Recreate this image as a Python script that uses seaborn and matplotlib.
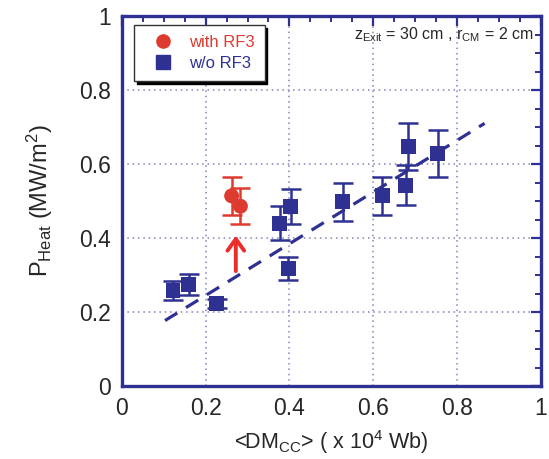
import numpy as np
import pandas as pd
import matplotlib
matplotlib.use("Agg")
import matplotlib.pyplot as plt
import seaborn as sns
from matplotlib.lines import Line2D

# values
wo_x = [0.122, 0.160, 0.226, 0.377, 0.403, 0.397, 0.527, 0.622, 0.678, 0.684, 0.754]
wo_y = [0.259, 0.275, 0.223, 0.440, 0.485, 0.318, 0.498, 0.514, 0.543, 0.647, 0.629]
wo_err = [0.026, 0.028, 0.012, 0.046, 0.048, 0.031, 0.052, 0.052, 0.055, 0.064, 0.064]

rf_x = [0.262, 0.283]
rf_y = [0.514, 0.486]
rf_err = [0.052, 0.048]

fit_x = [0.103, 0.866]
fit_y = [0.177, 0.710]

arrow_x = 0.272
arrow_y = [0.303, 0.414]

BLUE = "#2E3192"
RED = "#DD3A30"
ARROW_RED = "#EE2B2B"
GRID = "#8080C4"
TXT = "#262626"

sns.set_theme(style="white")
plt.rcParams["font.family"] = ["Liberation Sans", "DejaVu Sans"]
plt.rcParams["mathtext.fontset"] = "custom"
plt.rcParams["mathtext.rm"] = "Liberation Sans"
plt.rcParams["mathtext.it"] = "Liberation Sans:italic"

df = pd.DataFrame({
    "x": wo_x + rf_x,
    "y": wo_y + rf_y,
    "grp": ["w/o RF3"] * len(wo_x) + ["with RF3"] * len(rf_x),
})

fig = plt.figure(figsize=(5.49, 4.59), dpi=100)
ax = fig.add_axes([0.222, 0.159, 0.763, 0.806])

# fit line
sns.lineplot(x=fit_x, y=fit_y, ax=ax, color=BLUE, lw=2.3, zorder=2)
ax.lines[-1].set_dashes([4.5, 3.2])

# error bars
ax.errorbar(wo_x, wo_y, yerr=wo_err, fmt="none", ecolor=BLUE,
            elinewidth=1.8, capsize=7.5, capthick=1.8, zorder=3)
ax.errorbar(rf_x, rf_y, yerr=rf_err, fmt="none", ecolor=RED,
            elinewidth=1.8, capsize=7.5, capthick=1.8, zorder=3)

sns.scatterplot(data=df, x="x", y="y", hue="grp", style="grp",
                hue_order=["with RF3", "w/o RF3"],
                palette={"with RF3": RED, "w/o RF3": BLUE},
                markers={"with RF3": "o", "w/o RF3": "s"},
                s=115, linewidth=0, ax=ax, zorder=4, legend=False)

# arrow
ax.annotate("", xy=(arrow_x, arrow_y[1]), xytext=(arrow_x, arrow_y[0]),
            arrowprops=dict(arrowstyle="->,head_width=0.5,head_length=0.7",
                            color=ARROW_RED, lw=2.8), zorder=5)

ticks = [0, 0.2, 0.4, 0.6, 0.8, 1]
tick_labels = ["0", "0.2", "0.4", "0.6", "0.8", "1"]
ax.set_xlim(0, 1)
ax.set_ylim(0, 1)
ax.set_xticks(ticks)
ax.set_xticklabels(tick_labels)
ax.set_yticks(ticks)
ax.set_yticklabels(tick_labels)
ax.set_xticks(np.arange(0, 1.001, 0.05), minor=True)
ax.set_yticks(np.arange(0, 1.001, 0.05), minor=True)
ax.tick_params(which="both", direction="in", top=True, right=True,
               color=BLUE, labelsize=16.5, labelcolor=TXT)
ax.tick_params(which="major", length=7, width=1.6, pad=8)
ax.tick_params(which="minor", length=4, width=1.4)

ax.grid(True, which="major", color=GRID, linestyle=(0, (1, 2.5)), lw=1.1)
for sp in ax.spines.values():
    sp.set_color(BLUE)
    sp.set_linewidth(2.4)

ax.set_xlabel(r"<DM$_{\mathrm{CC}}$> ( x 10$^{4}$ Wb)", fontsize=15.5,
              color=TXT, labelpad=6)
ax.set_ylabel(r"P$_{\mathrm{Heat}}$ (MW/m$^{2}$)", fontsize=17,
              color=TXT, labelpad=17)

ax.text(0.983, 0.95, r"z$_{\mathrm{Exit}}$ = 30 cm , r$_{\mathrm{CM}}$ = 2 cm",
        transform=ax.transAxes, ha="right", va="center", fontsize=11.5,
        color=TXT)

# legend
handles = [
    Line2D([], [], marker="o", color=RED, ls="", markersize=9.5),
    Line2D([], [], marker="s", color=BLUE, ls="", markersize=10),
]
leg = ax.legend(handles, ["with RF3", "w/o RF3"], loc="upper left",
                bbox_to_anchor=(0.029, 0.976), fontsize=12, frameon=True,
                fancybox=False, shadow={"color": "black", "alpha": 1},
                edgecolor="#333333", handletextpad=0.4, borderpad=0.6,
                labelspacing=0.35, handlelength=2.3, borderaxespad=0)
leg.get_frame().set_linewidth(1.0)
leg.texts[0].set_color(RED)
leg.texts[1].set_color(BLUE)

fig.savefig("out.png", dpi=100)
